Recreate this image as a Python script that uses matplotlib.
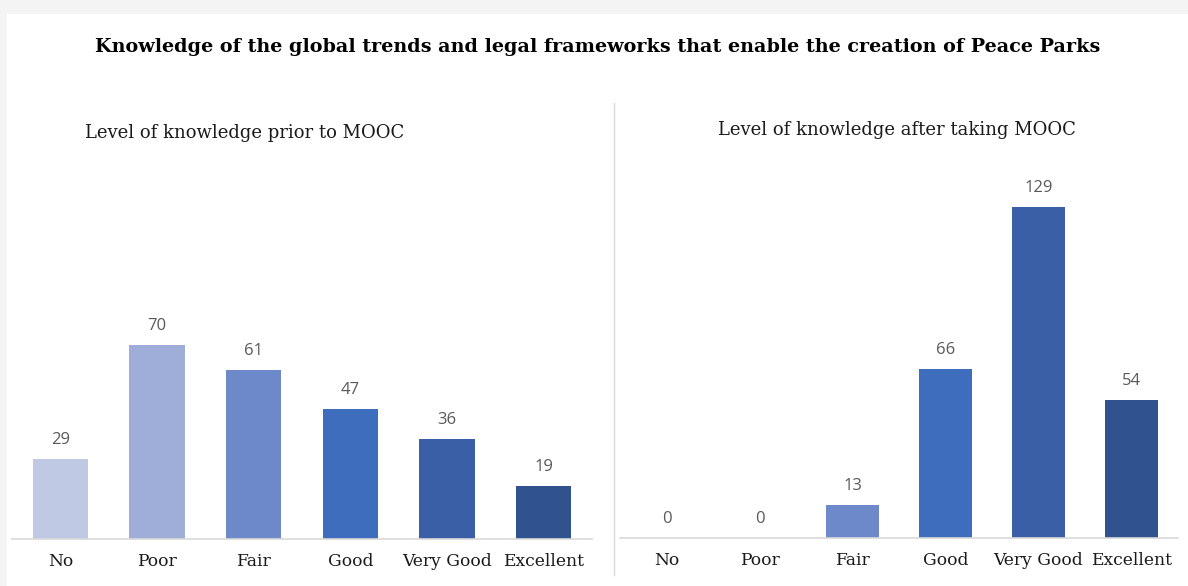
import matplotlib.pyplot as plt
from matplotlib.patches import Rectangle
from matplotlib.lines import Line2D

categories = ['No', 'Poor', 'Fair', 'Good', 'Very Good', 'Excellent']
before = [29, 70, 61, 47, 36, 19]
after = [0, 0, 13, 66, 129, 54]
colors = ['#BFC9E4', '#9FAED8', '#6E89C9', '#3F6DBD', '#3A5FA6', '#30528E']

title = 'Knowledge of the global trends and legal frameworks that enable the creation of Peace Parks'
sub_before = 'Level of knowledge prior to MOOC'
sub_after = 'Level of knowledge after taking MOOC'

W, H = 1188, 586
fig = plt.figure(figsize=(W / 100, H / 100), dpi=100, facecolor='white')

# gray strips at top and left edge
fig.patches.append(Rectangle((0, 1 - 14 / H), 1, 14 / H, transform=fig.transFigure,
                             facecolor='#F4F4F4', edgecolor='none', zorder=-1))
fig.patches.append(Rectangle((0, 0), 7 / W, 1, transform=fig.transFigure,
                             facecolor='#F4F4F4', edgecolor='none', zorder=-1))


def px(x0, y_top, x1, y_bot):
    return [x0 / W, 1 - y_bot / H, (x1 - x0) / W, (y_bot - y_top) / H]


def draw(ax, values, scale):
    x = list(range(len(categories)))
    bars = ax.bar(x, values, width=0.57, color=colors, zorder=2)
    ax.set_xlim(-0.5, 5.5)
    ax.set_ylim(0, (539 - 150) / scale)
    ax.set_facecolor('none')
    ax.set_zorder(2)
    for s in ['top', 'left', 'right']:
        ax.spines[s].set_visible(False)
    ax.spines['bottom'].set_color('#D9D9D9')
    ax.spines['bottom'].set_linewidth(1.2)
    ax.set_yticks([])
    ax.set_xticks(x)
    ax.set_xticklabels(categories, family='DejaVu Serif', fontsize=12.3, color='#1a1a1a')
    ax.tick_params(axis='x', length=0, pad=10)
    for b, v in zip(bars, values):
        ax.annotate(str(v), (b.get_x() + b.get_width() / 2, v), xytext=(0, 10.8),
                    textcoords='offset points', ha='center', va='baseline',
                    family='Open Sans', fontsize=12, color='#595959')


ax1 = fig.add_axes(px(12, 150, 592, 539))
draw(ax1, before, 2.77)
ax2 = fig.add_axes(px(620, 150, 1178, 538))
draw(ax2, after, 2.57)

fig.text(598 / W, 1 - 47 / H, title, ha='center', va='center',
         family='DejaVu Serif', fontweight='bold', fontsize=13.8, color='black')
fig.text(245 / W, 1 - 133 / H, sub_before, ha='center', va='center',
         family='DejaVu Serif', fontsize=13, color='#1a1a1a')
fig.text(897 / W, 1 - 130 / H, sub_after, ha='center', va='center',
         family='DejaVu Serif', fontsize=13, color='#1a1a1a')

fig.lines.append(Line2D([614 / W, 614 / W], [1 - 103 / H, 1 - 575 / H],
                        transform=fig.transFigure, color='#D9D9D9', linewidth=1))

fig.savefig('out.png', dpi=100, facecolor=fig.get_facecolor())
